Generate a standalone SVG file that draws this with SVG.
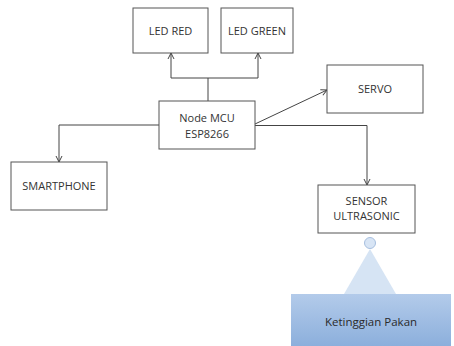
<svg xmlns="http://www.w3.org/2000/svg" width="454" height="346" viewBox="0 0 454 346">
<defs>
<marker id="arr" markerWidth="8" markerHeight="8" refX="7" refY="4" orient="auto" markerUnits="userSpaceOnUse">
<path d="M1,1 L7,4 L1,7" fill="none" stroke="#444" stroke-width="1"/>
</marker>
<linearGradient id="bg" x1="0" y1="0" x2="0" y2="1">
<stop offset="0" stop-color="#b3cbea"/>
<stop offset="1" stop-color="#8cafdc"/>
</linearGradient>
<style>
.box{fill:#fff;stroke:#555;stroke-width:1}
.lbl{font-family:"Open Sans","Liberation Sans",sans-serif;font-size:11px;fill:#333;text-anchor:middle}
.ln{fill:none;stroke:#444;stroke-width:1}
</style>
</defs>
<rect width="454" height="346" fill="#fff"/>
<g id="connectors">
<path class="ln" d="M208,101 V78 M171,78 H258" />
<path class="ln" d="M171,78 V53" marker-end="url(#arr)"/>
<path class="ln" d="M258,78 V53" marker-end="url(#arr)"/>
<path class="ln" d="M255,124 L327,90" marker-end="url(#arr)"/>
<path class="ln" d="M159,125 H59 V162" marker-end="url(#arr)"/>
<path class="ln" d="M255,125.5 H367 V185" stroke-width="1.4" marker-end="url(#arr)"/>
</g>
<g id="led-red"><rect class="box" x="133" y="8" width="75" height="45"/><text class="lbl" x="170.5" y="34.5">LED RED</text></g>
<g id="led-green"><rect class="box" x="221" y="8" width="72" height="45"/><text class="lbl" x="257" y="34.5">LED GREEN</text></g>
<g id="nodemcu"><rect class="box" x="159" y="101" width="96" height="48"/><text class="lbl" x="207" y="121.5">Node MCU</text><text class="lbl" x="207" y="137.5">ESP8266</text></g>
<g id="servo"><rect class="box" x="327" y="65" width="96" height="48"/><text class="lbl" x="375" y="93">SERVO</text></g>
<g id="smartphone"><rect class="box" x="11" y="162" width="96" height="48"/><text class="lbl" x="59" y="190">SMARTPHONE</text></g>
<g id="sensor"><rect class="box" x="318" y="185" width="97" height="48"/><text class="lbl" x="366.5" y="205">SENSOR</text><text class="lbl" x="366.5" y="220">ULTRASONIC</text></g>
<g id="beam">
<polygon points="370,249 344,294 396,294" fill="#d6e4f4"/>
<circle cx="370" cy="243" r="5.5" fill="#d8e5f5" stroke="#a7bfdf" stroke-width="1"/>
</g>
<g id="pakan"><rect x="291" y="294" width="160" height="52" fill="url(#bg)"/><text class="lbl" x="371" y="326" style="font-size:11.5px;fill:#2a2a2a">Ketinggian Pakan</text></g>
</svg>
